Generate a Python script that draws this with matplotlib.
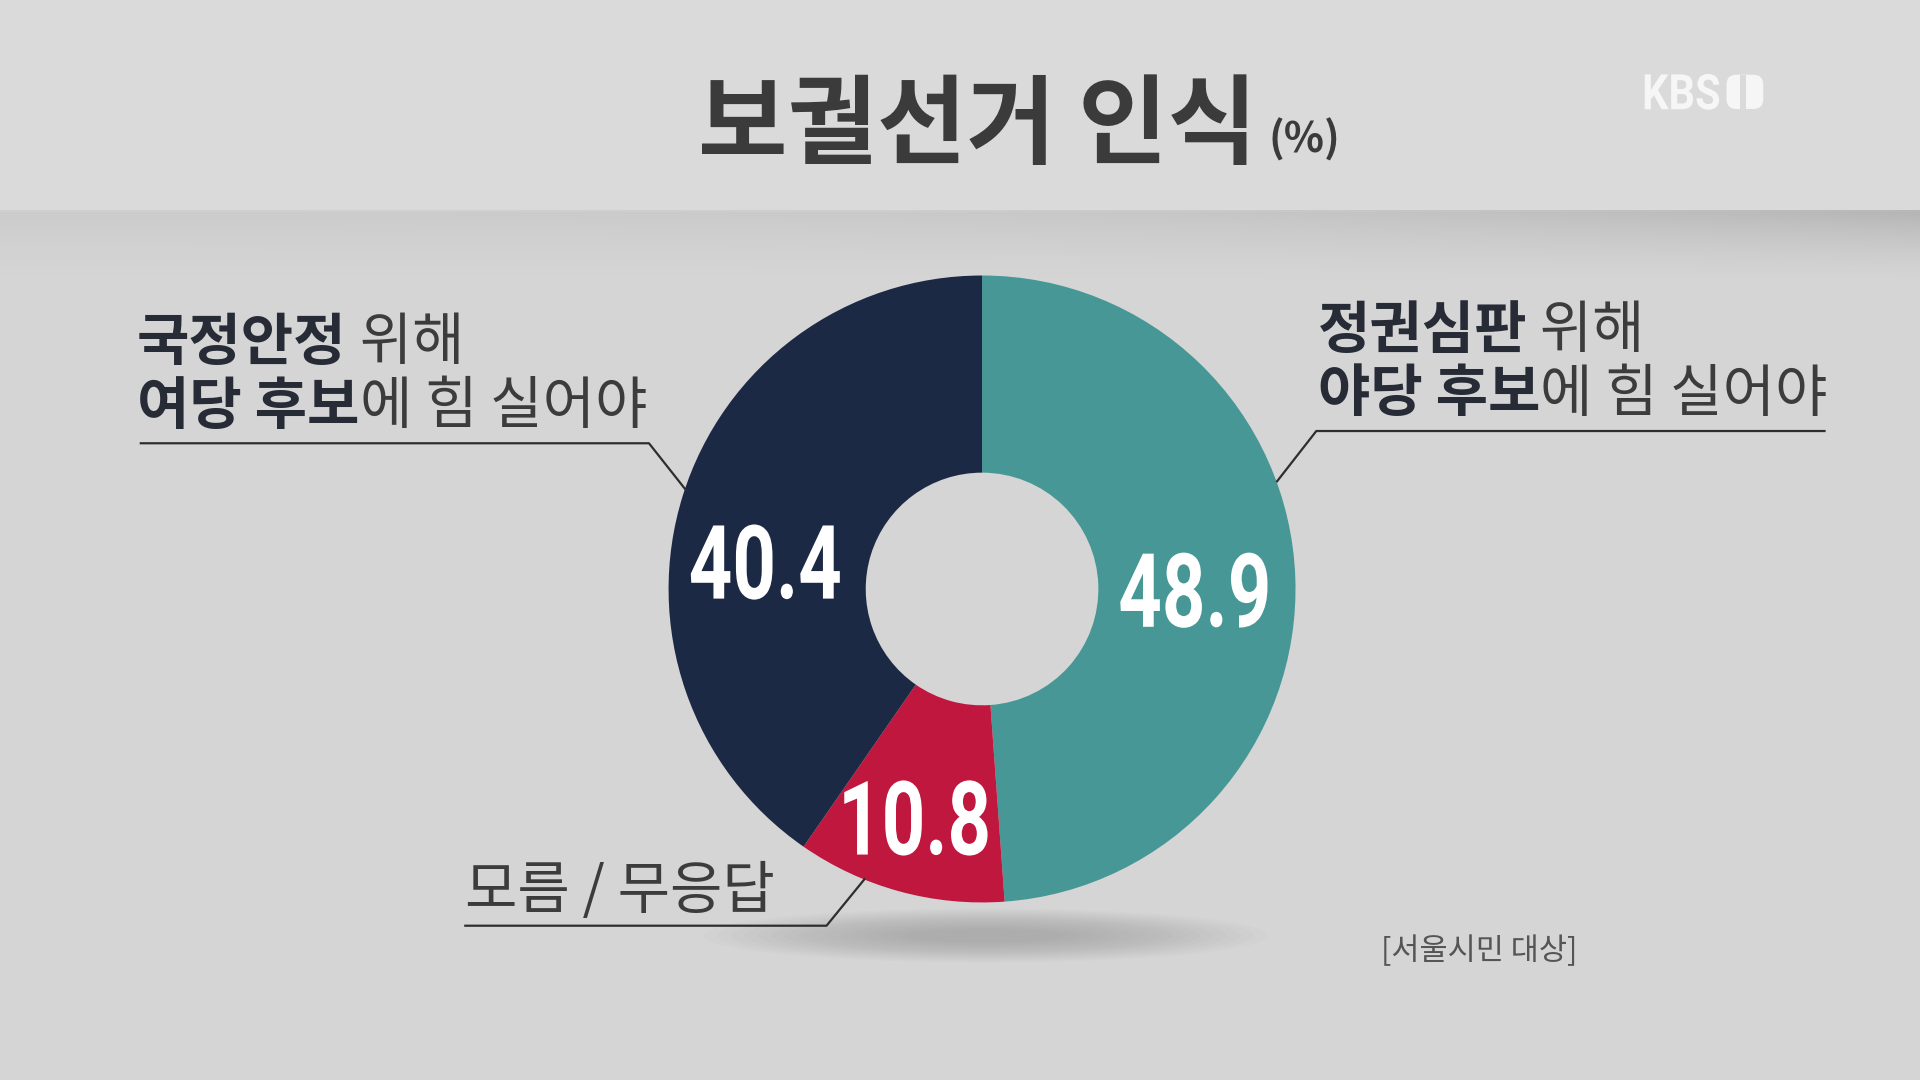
import matplotlib
matplotlib.use("Agg")
import matplotlib.pyplot as plt
import matplotlib.transforms as mtransforms
import numpy as np
from matplotlib.patches import Ellipse, Rectangle, PathPatch, FancyBboxPatch
from matplotlib.textpath import TextPath
from matplotlib.font_manager import FontProperties

# data
categories = ["정권심판 위해 야당 후보에 힘 실어야", "모름 / 무응답", "국정안정 위해 여당 후보에 힘 실어야"]
values = [48.9, 10.8, 40.4]
colors = ["#469795", "#c0173f", "#1c2945"]
value_labels = ["48.9", "10.8", "40.4"]

KR = ["Noto Sans CJK KR", "DejaVu Sans"]
NUMPROP = FontProperties(family="Roboto", weight="bold")

W, H = 1568, 882  # working units (reference pixels)
fig = plt.figure(figsize=(19.2, 10.8), dpi=100)
fig.patch.set_facecolor("#d5d5d5")
ax = fig.add_axes([0, 0, 1, 1])


def Y(y):
    return H - y


def cond_text(x, y, s, size, sx, color, prop, ha="center", z=4):
    # condensed text drawn as a path, (x, y) = centre of ink
    tp = TextPath((0, 0), s, size=size, prop=prop)
    bb = tp.get_extents()
    w, h = bb.width * sx, bb.height
    x0 = {"center": x - w / 2, "left": x, "right": x - w}[ha]
    tr = (mtransforms.Affine2D().translate(-bb.x0, -bb.y0)
          .scale(sx, 1).translate(x0, y - h / 2))
    ax.add_patch(PathPatch(tr.transform_path(tp), fc=color, ec="none", zorder=z))


# donut
cx, cy, R, r_in = 802, Y(481), 256, 95
wedges, _ = ax.pie(values, colors=colors, startangle=90, counterclock=False,
                   center=(cx, cy), radius=R, frame=True,
                   wedgeprops=dict(width=R - r_in, linewidth=0))
ax.set_xlim(0, W)
ax.set_ylim(0, H)
ax.set_aspect("auto")
ax.axis("off")
for w in wedges:
    w.set_zorder(2)

# background: top band + shadow under it
ax.add_patch(Rectangle((0, Y(172)), W, 172, color="#dadada", zorder=0))
grad = np.linspace(0.0, 1.0, 60).reshape(-1, 1)
xs = np.linspace(0, 1, 400).reshape(1, -1)
shade = (1 - grad) ** 1.5 * (0.3 + 0.7 * xs ** 3)
rgba = np.zeros((60, 400, 4))
rgba[..., :3] = 0.55
rgba[..., 3] = shade * 0.45
ax.imshow(rgba, extent=(0, W, Y(232), Y(172)), aspect="auto", zorder=1,
          interpolation="bilinear")
ax.set_xlim(0, W)
ax.set_ylim(0, H)

# soft shadow under the donut
for i in range(16):
    ax.add_patch(Ellipse((805, Y(764)), 460 - i * 22, 44 - i * 2.2,
                         color="#8a8a8a", alpha=0.04, lw=0, zorder=1))

# title
ax.text(798, Y(104), "보궐선거 인식", fontsize=70, fontweight="heavy", family=KR,
        color="#3b3b3b", ha="center", va="center", zorder=3)
ax.text(1036, Y(114), "(%)", fontsize=30, fontweight="bold", family=KR,
        color="#3b3b3b", ha="left", va="center", zorder=3)

# KBS 1 logo
cond_text(1404, Y(75), "KBS", 40, 0.85, "#f6f6f6", NUMPROP, ha="right", z=3)
ax.add_patch(FancyBboxPatch((1410, Y(89)), 30, 28, boxstyle="round,pad=0,rounding_size=8",
                            fc="#f6f6f6", ec="none", zorder=3))
ax.add_patch(Rectangle((1421, Y(89)), 5, 28, fc="#dadada", ec="none", zorder=3))

# value labels
label_pos = [(975, 482), (748, 668), (625, 459)]
for lab, (lx, ly) in zip(value_labels, label_pos):
    cond_text(lx, Y(ly), lab, 84, 0.74, "white", NUMPROP)

# leader lines
lc = "#2e2e2e"
ax.plot([1043, 1075, 1490], [Y(393), Y(352), Y(352)], color=lc, lw=1.6, zorder=3)
ax.plot([560, 530, 115], [Y(400), Y(362), Y(362)], color=lc, lw=1.6, zorder=3)
ax.plot([706, 675, 380], [Y(718), Y(756), Y(756)], color=lc, lw=1.6, zorder=3)

fig.canvas.draw()
renderer = fig.canvas.get_renderer()
inv = ax.transData.inverted()


def seg_text(x, y, parts, size=41):
    for s, wgt, col in parts:
        t = ax.text(x, Y(y), s, fontsize=size, fontweight=wgt, family=KR,
                    color=col, ha="left", va="center", zorder=3)
        bb = t.get_window_extent(renderer)
        x0 = inv.transform((bb.x0, 0))[0]
        x1 = inv.transform((bb.x1, 0))[0]
        x += x1 - x0


B, N = "#262b36", "#3c3c3c"
seg_text(1076, 270, [("정권심판", "bold", B), (" 위해", "light", N)])
seg_text(1076, 322, [("야당 후보", "bold", B), ("에 힘 실어야", "light", N)])
seg_text(112, 280, [("국정안정", "bold", B), (" 위해", "light", N)])
seg_text(112, 332, [("여당 후보", "bold", B), ("에 힘 실어야", "light", N)])
seg_text(380, 728, [("모름 / 무응답", "light", N)])

ax.text(1128, Y(777), "[서울시민 대상]", fontsize=22, family=KR, color="#555555",
        fontweight="light", ha="left", va="center", zorder=3)

fig.savefig("out.png", dpi=100, facecolor=fig.get_facecolor())
